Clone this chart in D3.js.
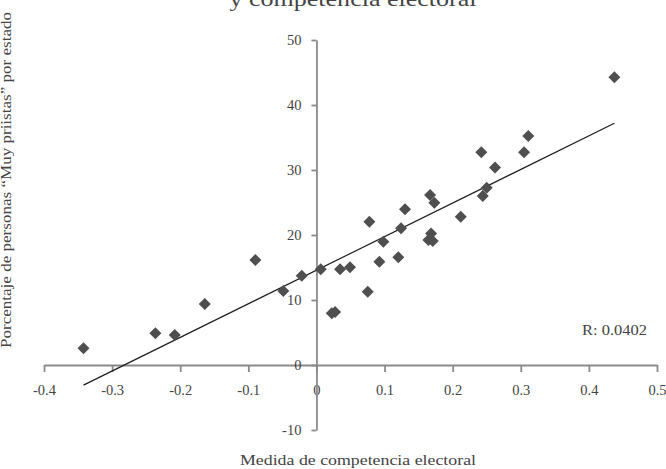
<!DOCTYPE html>
<html>
<head>
<meta charset="utf-8">
<script src="https://cdn.jsdelivr.net/npm/d3@7"></script>
<style>
  html, body { margin: 0; padding: 0; background: #fff; }
  svg { display: block; }
  text { font-family: "Liberation Serif", "Times New Roman", serif; fill: #444; }
</style>
</head>
<body>
<svg id="chart" width="666" height="469"></svg>
<script>
// Competition measure (x) and share of "Muy priistas" respondents (y), one entry per state
const competencia = [
  -0.342, -0.2365, -0.208, -0.164, -0.0897, -0.0486, -0.0216, 0.0063,
  0.0225, 0.0273, 0.0347, 0.0493, 0.0753, 0.0777, 0.0924, 0.0982,
  0.1202, 0.1242, 0.130, 0.1668, 0.1731, 0.1683, 0.1643, 0.1708,
  0.2119, 0.2421, 0.2442, 0.250, 0.2622, 0.3048, 0.3111, 0.4374
];
const muyPriistas = [
  2.57, 4.88, 4.62, 9.38, 16.15, 11.38, 13.72, 14.72,
  7.95, 8.15, 14.72, 15.03, 11.28, 22.05, 15.89, 18.97,
  16.57, 21.03, 23.95, 26.15, 24.97, 20.23, 19.23, 19.08,
  22.82, 32.72, 26.0, 27.26, 30.38, 32.72, 35.23, 44.26
];

const xTickValues = [-0.4, -0.3, -0.2, -0.1, 0, 0.1, 0.2, 0.3, 0.4, 0.5];
const xTickLabels = ["-0.4", "-0.3", "-0.2", "-0.1", "0", "0.1", "0.2", "0.3", "0.4", "0.5"];
const yTickValues = [-10, 0, 10, 20, 30, 40, 50];
const yTickLabels = ["-10", "0", "10", "20", "30", "40", "50"];

const titleLine = "y competencia electoral";
const xTitle = "Medida de competencia electoral";
const yTitle = "Porcentaje de personas \u201cMuy priistas\u201d por estado";
const rLabel = "R: 0.0402";

const svg = d3.select("#chart");

const x = d3.scaleLinear().domain([-0.4, 0.5]).range([44, 657]);
const y = d3.scaleLinear().domain([-10, 50]).range([430, 40]);

const points = competencia.map((c, i) => ({ x: c, y: muyPriistas[i] }));

// Axes cross at the origin
const axisColor = "#8a8a8a";

const xAxis = d3.axisBottom(x)
  .tickValues(xTickValues)
  .tickFormat((d, i) => xTickLabels[i])
  .tickSize(7)
  .tickSizeOuter(0)
  .tickPadding(13);

const yAxis = d3.axisLeft(y)
  .tickValues(yTickValues)
  .tickFormat((d, i) => yTickLabels[i])
  .tickSize(5)
  .tickSizeOuter(0)
  .tickPadding(10);

const gx = svg.append("g").attr("transform", `translate(0,${y(0)})`).call(xAxis);
const gy = svg.append("g").attr("transform", `translate(${x(0)},0)`).call(yAxis);

[gx, gy].forEach(g => {
  g.select(".domain").attr("stroke", axisColor).attr("stroke-width", 1.8);
  g.selectAll(".tick line").attr("stroke", axisColor).attr("stroke-width", 1.8);
  g.selectAll(".tick text")
    .attr("fill", "#474747")
    .style("font-family", "'Liberation Serif', serif")
    .style("font-size", "14.5px");
});

// Least-squares trend line across the range of the data
const mx = d3.mean(points, d => d.x);
const my = d3.mean(points, d => d.y);
const sxy = d3.sum(points, d => (d.x - mx) * (d.y - my));
const sxx = d3.sum(points, d => (d.x - mx) * (d.x - mx));
const slope = sxy / sxx;
const intercept = my - slope * mx;
const [xMin, xMax] = d3.extent(points, d => d.x);

svg.append("line")
  .attr("x1", x(xMin)).attr("y1", y(intercept + slope * xMin))
  .attr("x2", x(xMax)).attr("y2", y(intercept + slope * xMax))
  .attr("stroke", "#1e1e1e")
  .attr("stroke-width", 1.2);

// Diamond markers
const diamond = d3.symbol().type(d3.symbolSquare).size(72);
svg.append("g")
  .selectAll("path")
  .data(points)
  .join("path")
  .attr("d", diamond)
  .attr("transform", d => `translate(${x(d.x)},${y(d.y)}) rotate(45)`)
  .attr("fill", "#4f4f4f");

// Titles and annotation
svg.append("text")
  .attr("x", 353).attr("y", 6)
  .attr("text-anchor", "middle")
  .attr("textLength", 247).attr("lengthAdjust", "spacingAndGlyphs")
  .style("font-size", "22px")
  .text(titleLine);

svg.append("text")
  .attr("x", 358).attr("y", 465)
  .attr("text-anchor", "middle")
  .attr("textLength", 236).attr("lengthAdjust", "spacingAndGlyphs")
  .style("font-size", "14px")
  .text(xTitle);

svg.append("text")
  .attr("transform", "translate(11,180) rotate(-90)")
  .attr("text-anchor", "middle")
  .attr("textLength", 336).attr("lengthAdjust", "spacingAndGlyphs")
  .style("font-size", "14px")
  .text(yTitle);

svg.append("text")
  .attr("x", 647).attr("y", 335)
  .attr("text-anchor", "end")
  .attr("textLength", 65).attr("lengthAdjust", "spacingAndGlyphs")
  .style("font-size", "14px")
  .text(rLabel);
</script>
</body>
</html>
